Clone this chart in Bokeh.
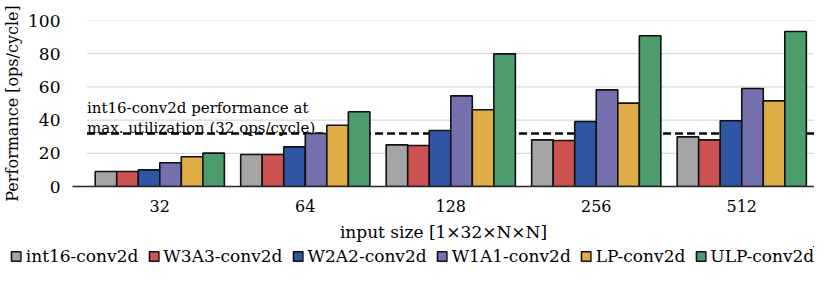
from bokeh.plotting import figure
from bokeh.layouts import column
from bokeh.models import ColumnDataSource, Range1d, FixedTicker, Legend, LegendItem, Label
from bokeh.embed import file_html
from bokeh.resources import INLINE

# ---------------- data ----------------
categories = ["32", "64", "128", "256", "512"]
series_names = ["int16-conv2d", "W3A3-conv2d", "W2A2-conv2d", "W1A1-conv2d", "LP-conv2d", "ULP-conv2d"]
int16_conv2d = [9.0, 19.3, 25.1, 28.1, 29.9]
w3a3_conv2d = [9.0, 19.3, 24.7, 27.7, 28.1]
w2a2_conv2d = [10.0, 23.9, 33.7, 39.2, 39.6]
w1a1_conv2d = [14.3, 31.9, 54.6, 58.2, 59.0]
lp_conv2d = [17.9, 36.9, 46.2, 50.2, 51.6]
ulp_conv2d = [20.1, 45.0, 79.9, 90.8, 93.4]
y_ticks = [0, 20, 40, 60, 80, 100]
max_util = 32
annotation_lines = ["int16-conv2d performance at", "max. utilization (32 ops/cycle)"]
x_title = "input size [1\u00d732\u00d7N\u00d7N]"
y_title = "Performance [ops/cycle]"

series_values = [int16_conv2d, w3a3_conv2d, w2a2_conv2d, w1a1_conv2d, lp_conv2d, ulp_conv2d]
colors = ["#A5A5A5", "#CD5252", "#2E56A4", "#7570AE", "#DFAD45", "#4C9C6D"]

FONT = "DejaVu Serif"
n_cat = len(categories)
centers = [i + 0.5 for i in range(n_cat)]
bar_w = 0.148
BAR_LINE = dict(line_color="#111111", line_width=1.6)

p = figure(width=814, height=246, output_backend="svg", toolbar_location=None,
           x_range=Range1d(-0.1, n_cat), y_range=Range1d(y_ticks[0], y_ticks[-1]),
           min_border_left=68, min_border_right=0, min_border_top=20, min_border_bottom=60)
p.outline_line_color = None
p.xgrid.visible = False
p.ygrid.visible = False

# gridlines
grid_src = ColumnDataSource(dict(x0=[0] * (len(y_ticks) - 1), x1=[n_cat] * (len(y_ticks) - 1), y=y_ticks[1:]))
p.segment(x0="x0", x1="x1", y0="y", y1="y", source=grid_src, line_color="#D9D9D9", line_width=1.2)

# reference line
p.line(x=[0, n_cat], y=[max_util, max_util], line_color="black", line_width=2.5, line_dash="8 4")

# bars
sources = []
for k, (name, vals, col) in enumerate(zip(series_names, series_values, colors)):
    xs = [c + (k - 2.5) * bar_w for c in centers]
    src = ColumnDataSource(dict(x=xs, top=vals))
    sources.append(src)
    p.vbar(x="x", top="top", width=bar_w, source=src, fill_color=col, **BAR_LINE)

# axes
p.xaxis.ticker = FixedTicker(ticks=centers)
p.xaxis.major_label_overrides = {c: lab for c, lab in zip(centers, categories)}
p.xaxis.axis_line_color = "#262626"
p.xaxis.axis_line_width = 1.5
p.xaxis.major_tick_line_color = None
p.xaxis.minor_tick_line_color = None
p.xaxis.major_label_standoff = 7
p.xaxis.major_label_text_font = FONT
p.xaxis.major_label_text_font_size = "16px"
p.xaxis.major_label_text_color = "black"
p.xaxis.axis_label = x_title
p.xaxis.axis_label_text_font = FONT
p.xaxis.axis_label_text_font_size = "17px"
p.xaxis.axis_label_text_font_style = "normal"
p.xaxis.axis_label_text_color = "black"
p.xaxis.axis_label_standoff = 7

p.yaxis.ticker = FixedTicker(ticks=y_ticks)
p.yaxis.axis_line_color = None
p.yaxis.major_tick_line_color = None
p.yaxis.minor_tick_line_color = None
p.yaxis.major_label_standoff = 6
p.yaxis.major_label_text_font = FONT
p.yaxis.major_label_text_font_size = "17px"
p.yaxis.major_label_text_color = "black"
p.yaxis.axis_label = y_title
p.yaxis.axis_label_text_font = FONT
p.yaxis.axis_label_text_font_size = "16px"
p.yaxis.axis_label_text_font_style = "normal"
p.yaxis.axis_label_text_color = "black"
p.yaxis.axis_label_standoff = 3

# annotation
for txt, yy in zip(annotation_lines, [47.0, 35.5]):
    p.add_layout(Label(x=0, y=yy, text=txt, text_font=FONT, text_font_size="15px",
                       text_baseline="alphabetic", text_color="black"))

# legend strip (series re-plotted outside its visible ranges, only as legend proxies)
lf = figure(width=814, height=20, output_backend="svg", toolbar_location=None,
            x_range=Range1d(-20, -19), y_range=Range1d(-2, -1), x_axis_type=None, y_axis_type=None,
            min_border_left=10, min_border_right=0, min_border_top=0, min_border_bottom=0)
if "frame_align" in lf.properties():
    lf.frame_align = False
lf.outline_line_color = None
lf.xgrid.visible = False
lf.ygrid.visible = False
items = []
for name, col, src in zip(series_names, colors, sources):
    r = lf.vbar(x="x", top="top", width=bar_w, source=src, fill_color=col, **BAR_LINE)
    items.append(LegendItem(label=name, renderers=[r]))
legend = Legend(items=items, orientation="horizontal", location="center",
                glyph_width=12, glyph_height=12, label_standoff=4, spacing=9,
                padding=0, margin=0, border_line_color=None, background_fill_alpha=0,
                label_text_font=FONT, label_text_font_size="17px", label_text_color="black")
lf.add_layout(legend)

layout = column(p, lf, spacing=0)
open("out.html", "w").write(file_html(layout, INLINE))
